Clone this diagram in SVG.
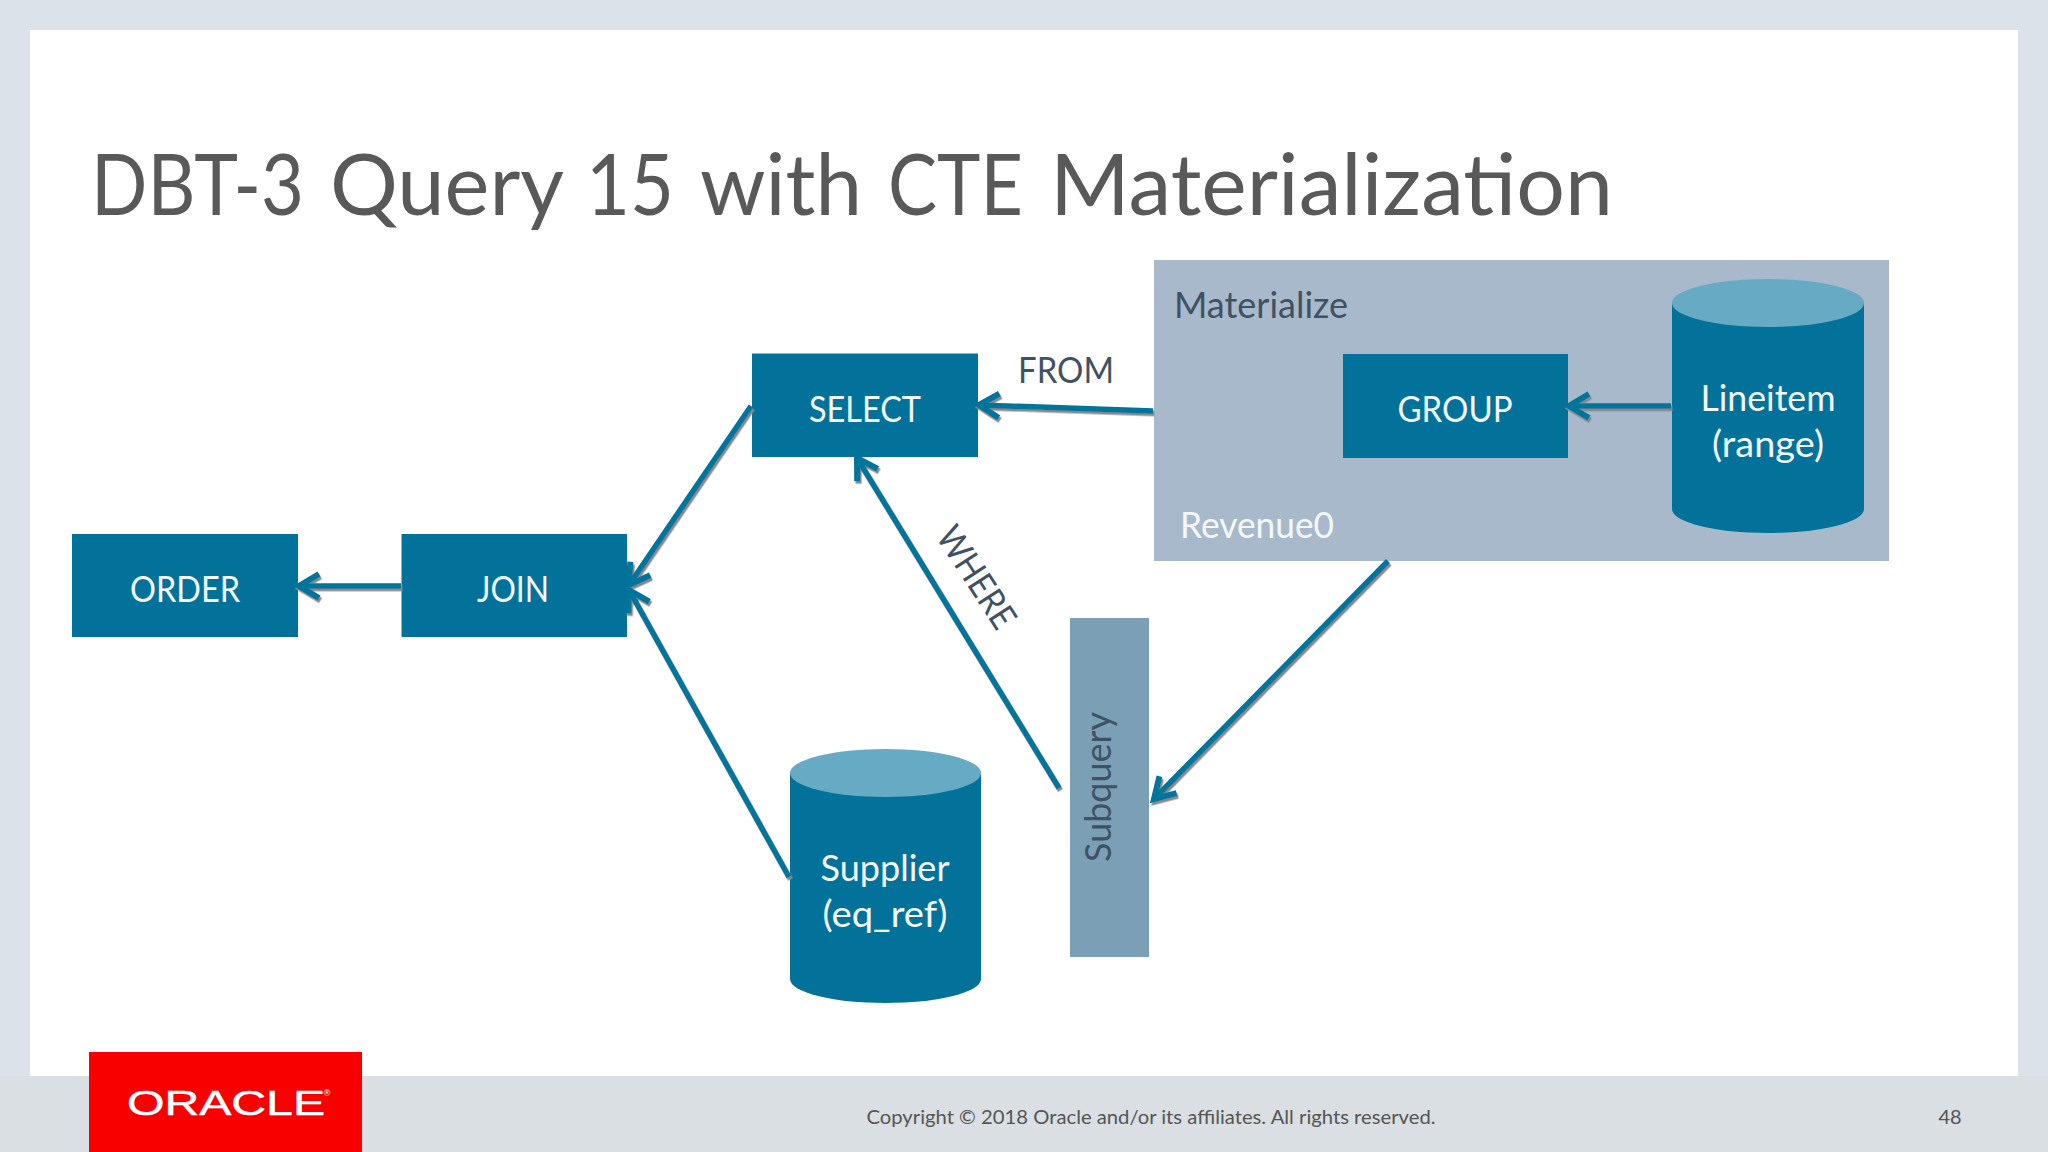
<svg xmlns="http://www.w3.org/2000/svg" width="2048" height="1152" viewBox="0 0 2048 1152">
<style>
text{font-family:Lato,"Open Sans",sans-serif;font-size:36px;text-anchor:middle}
.w{fill:#f4f8fa}.d{fill:#3f5264}
.box{fill:#03729a}.top{fill:#67aac4}
.c line{stroke:#04749c;stroke-width:5.500;marker-end:url(#a);fill:none}
</style>
<defs>
<marker id="a" markerUnits="userSpaceOnUse" markerWidth="44" markerHeight="44" refX="22" refY="22" orient="auto" overflow="visible"><path d="M2 10L22 22L2 34" fill="none" stroke="#04749c" stroke-width="6"/></marker>
<filter id="s" x="-10%" y="-10%" width="120%" height="120%"><feDropShadow dx="1.500" dy="2.500" stdDeviation="0.500" flood-color="#85898e"/></filter>
</defs>
<rect width="2048" height="1152" fill="#dce2ea"/>
<rect y="1076" width="2048" height="76" fill="#d9dfe3"/>
<rect x="30" y="30" width="1988" height="1046" fill="#fff"/>
<text y="215" fill="#595959" style="font-size:85px;text-anchor:start"><tspan x="91" textLength="213" lengthAdjust="spacingAndGlyphs">DBT-3</tspan> <tspan x="330" textLength="232" lengthAdjust="spacingAndGlyphs">Query</tspan> <tspan x="586" textLength="88" lengthAdjust="spacingAndGlyphs">15</tspan> <tspan x="700" textLength="162" lengthAdjust="spacingAndGlyphs">with</tspan> <tspan x="888" textLength="135" lengthAdjust="spacingAndGlyphs">CTE</tspan> <tspan x="1050" textLength="563" lengthAdjust="spacingAndGlyphs">Materialization</tspan></text>
<g id="materialize"><rect x="1154" y="260" width="735" height="301" fill="#a8b9cb"/>
<text class="d" x="1261" y="318" textLength="174" lengthAdjust="spacingAndGlyphs">Materialize</text>
<text class="w" x="1257" y="538" textLength="154" lengthAdjust="spacingAndGlyphs">Revenue0</text></g>
<g id="order"><rect class="box" x="72" y="534" width="226" height="103"/><text class="w" x="185" y="602" textLength="110" lengthAdjust="spacingAndGlyphs">ORDER</text></g>
<g id="join"><rect class="box" x="401.500" y="534" width="225.500" height="103"/><text class="w" x="513" y="602" textLength="72" lengthAdjust="spacingAndGlyphs">JOIN</text></g>
<g id="select"><rect class="box" x="752" y="353.500" width="226" height="103.500"/><text class="w" x="865" y="422" textLength="112" lengthAdjust="spacingAndGlyphs">SELECT</text></g>
<g id="group"><rect class="box" x="1343" y="354" width="225" height="104"/><text class="w" x="1455" y="422" textLength="115" lengthAdjust="spacingAndGlyphs">GROUP</text></g>
<g id="lineitem"><path class="box" d="M1672 303V509A96 24 0 0 0 1864 509V303Z"/><ellipse class="top" cx="1768" cy="303" rx="96" ry="24"/>
<text class="w" x="1768" y="411" textLength="135" lengthAdjust="spacingAndGlyphs">Lineitem</text><text class="w" x="1768" y="457" textLength="112" lengthAdjust="spacingAndGlyphs">(range)</text></g>
<g id="supplier"><path class="box" d="M790 773V979A95.500 24 0 0 0 981 979V773Z"/><ellipse class="top" cx="885.500" cy="773" rx="95.500" ry="24"/>
<text class="w" x="885" y="881" textLength="129" lengthAdjust="spacingAndGlyphs">Supplier</text><text class="w" x="885" y="927" textLength="125" lengthAdjust="spacingAndGlyphs">(eq_ref)</text></g>
<g id="subquery"><rect x="1070" y="618" width="79" height="339" fill="#7ba0b5"/><text class="d" transform="translate(1111 787) rotate(-90)" textLength="150" lengthAdjust="spacingAndGlyphs">Subquery</text></g>
<g id="connectors" class="c" filter="url(#s)">
<line x1="1153" y1="411" x2="979" y2="405"/>
<line x1="1671" y1="406" x2="1569" y2="406"/>
<line x1="401" y1="586" x2="299" y2="586"/>
<line x1="751" y1="406" x2="629" y2="585"/>
<line x1="789" y1="877" x2="629" y2="590"/>
<line x1="1059" y1="788" x2="857" y2="458"/>
<line x1="1388" y1="561" x2="1154" y2="799"/>
</g>
<text class="d" x="1066" y="383" textLength="96" lengthAdjust="spacingAndGlyphs">FROM</text>
<text class="d" transform="translate(966 584) rotate(57)" textLength="114" lengthAdjust="spacingAndGlyphs">WHERE</text>
<g id="logo"><rect x="89" y="1052" width="273" height="100" fill="#f80000"/>
<text x="226" y="1115" fill="#fff" stroke="#fff" stroke-width="0.500" style="font-family:'Liberation Sans',sans-serif;font-size:35px" textLength="198" lengthAdjust="spacingAndGlyphs">ORACLE</text>
<text x="327" y="1096" fill="#fff" style="font-family:'Liberation Sans',sans-serif;font-size:9px">®</text></g>
<text x="1151" y="1124" fill="#555" style="font-size:20px" textLength="569" lengthAdjust="spacingAndGlyphs">Copyright © 2018 Oracle and/or its affiliates. All rights reserved.</text>
<text x="1950" y="1124" fill="#555" style="font-size:20px">48</text>
</svg>
